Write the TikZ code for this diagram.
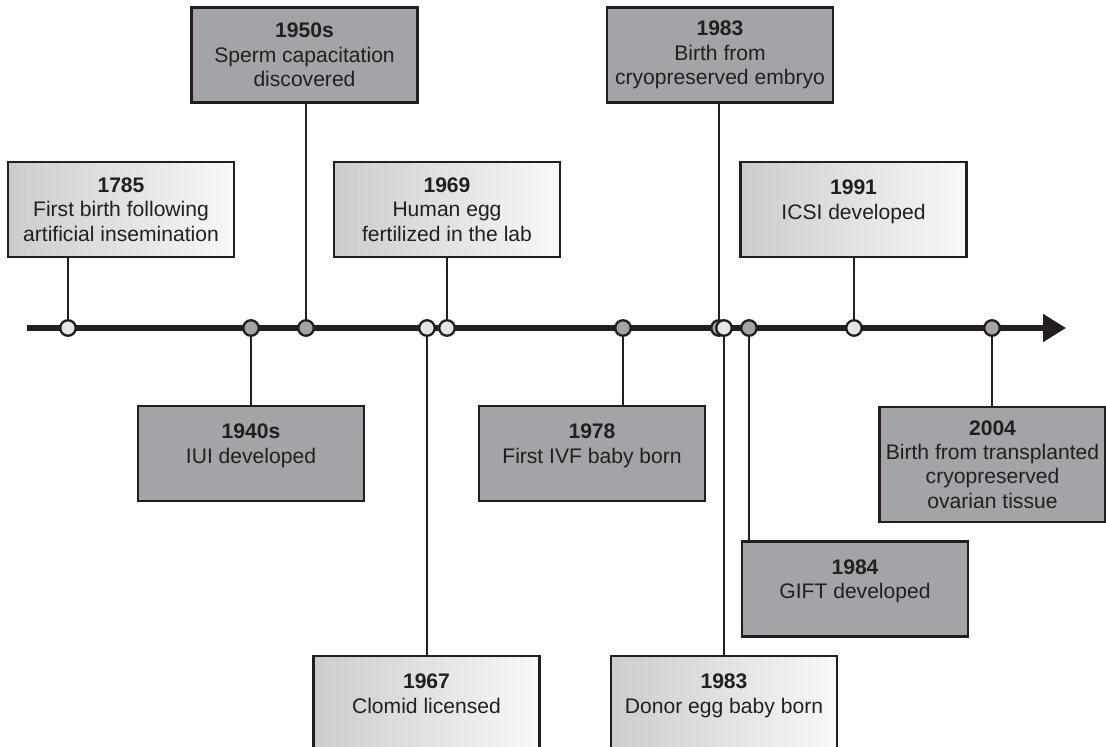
\documentclass[tikz,border=0pt]{standalone}
\usepackage{fontspec}
\setmainfont{Liberation Sans}
\usetikzlibrary{arrows.meta}
\definecolor{Ink}{HTML}{231F20}
\definecolor{MidGray}{HTML}{A3A4A7}
\definecolor{PaleGray}{HTML}{E4E5E6}
\definecolor{FadeLeft}{HTML}{CBCCCE}
\definecolor{FadeRight}{HTML}{F8F8F8}

\begin{document}
\begin{tikzpicture}[
    x=0.02cm, y=-0.02cm,
    event/.style={
        rectangle,
        draw=Ink,
        line width=1.3pt,
        minimum width=4.52cm,
        minimum height=1.9cm,
        align=center,
        text=Ink,
        font=\fontsize{12}{13.9}\selectfont
    },
    darkbox/.style={event, fill=MidGray},
    lightbox/.style={event, left color=FadeLeft, right color=FadeRight},
    twoline/.style={text depth=11pt},
    dot/.style={circle, draw=Ink, line width=1.3pt, inner sep=0pt, minimum size=0.31cm},
    darkdot/.style={dot, fill=MidGray},
    lightdot/.style={dot, fill=PaleGray},
    link/.style={draw=Ink, line width=1.3pt},
    axis/.style={draw=Ink, line width=3pt, -{Triangle[length=0.46cm, width=0.54cm]}}
]
    \clip (0,0) rectangle (1106,747);

    \coordinate (tstart) at (27,328);
    \coordinate (tend) at (1066,328);
    \draw[axis] (tstart) -- (tend);

    \node[lightdot] (d1785) at (68,328) {};
    \node[darkdot] (d1940s) at (251,328) {};
    \node[darkdot] (d1950s) at (306,328) {};
    \node[lightdot] (d1967) at (427,328) {};
    \node[lightdot] (d1969) at (447,328) {};
    \node[darkdot] (d1978) at (623,328) {};
    \node[darkdot] (dcryo) at (719,328) {};
    \node[lightdot] (ddonor) at (724,328) {};
    \node[darkdot] (d1984) at (749,328) {};
    \node[lightdot] (d1991) at (854,328) {};
    \node[darkdot] (d2004) at (992,328) {};

    \node[darkbox] (b1950s) at (304.5,55) {\textbf{1950s}\\Sperm capacitation\\discovered};
    \node[darkbox] (bcryo) at (720,55) {\textbf{1983}\\Birth from\\cryopreserved embryo};
    \node[lightbox] (b1785) at (121,209.5) {\textbf{1785}\\First birth following\\artificial insemination};
    \node[lightbox] (b1969) at (447,209.5) {\textbf{1969}\\Human egg\\fertilized in the lab};
    \node[lightbox, twoline] (b1991) at (853.5,209.5) {\textbf{1991}\\ICSI developed};
    \node[darkbox, twoline] (b1940s) at (251,453.5) {\textbf{1940s}\\IUI developed};
    \node[darkbox, twoline] (b1978) at (592,453.5) {\textbf{1978}\\First IVF baby born};
    \node[darkbox, minimum height=2.3cm] (b2004) at (992.5,464.5) {\textbf{2004}\\Birth from transplanted\\cryopreserved\\ovarian tissue};
    \node[darkbox, twoline] (b1984) at (855,589) {\textbf{1984}\\GIFT developed};
    \node[lightbox, twoline] (b1967) at (426.5,703.5) {\textbf{1967}\\Clomid licensed};
    \node[lightbox, twoline] (bdonor) at (724,703.5) {\textbf{1983}\\Donor egg baby born};

    \draw[link] (b1785.south -| d1785) -- (d1785.north);
    \draw[link] (b1950s.south -| d1950s) -- (d1950s.north);
    \draw[link] (b1969.south -| d1969) -- (d1969.north);
    \draw[link] (bcryo.south -| dcryo) -- (dcryo.north);
    \draw[link] (b1991.south -| d1991) -- (d1991.north);
    \draw[link] (d1940s.south) -- (b1940s.north -| d1940s);
    \draw[link] (d1967.south) -- (b1967.north -| d1967);
    \draw[link] (d1978.south) -- (b1978.north -| d1978);
    \draw[link] (ddonor.south) -- (bdonor.north -| ddonor);
    \draw[link] (d1984.south) -- (b1984.north -| d1984);
    \draw[link] (d2004.south) -- (b2004.north -| d2004);
\end{tikzpicture}
\end{document}
